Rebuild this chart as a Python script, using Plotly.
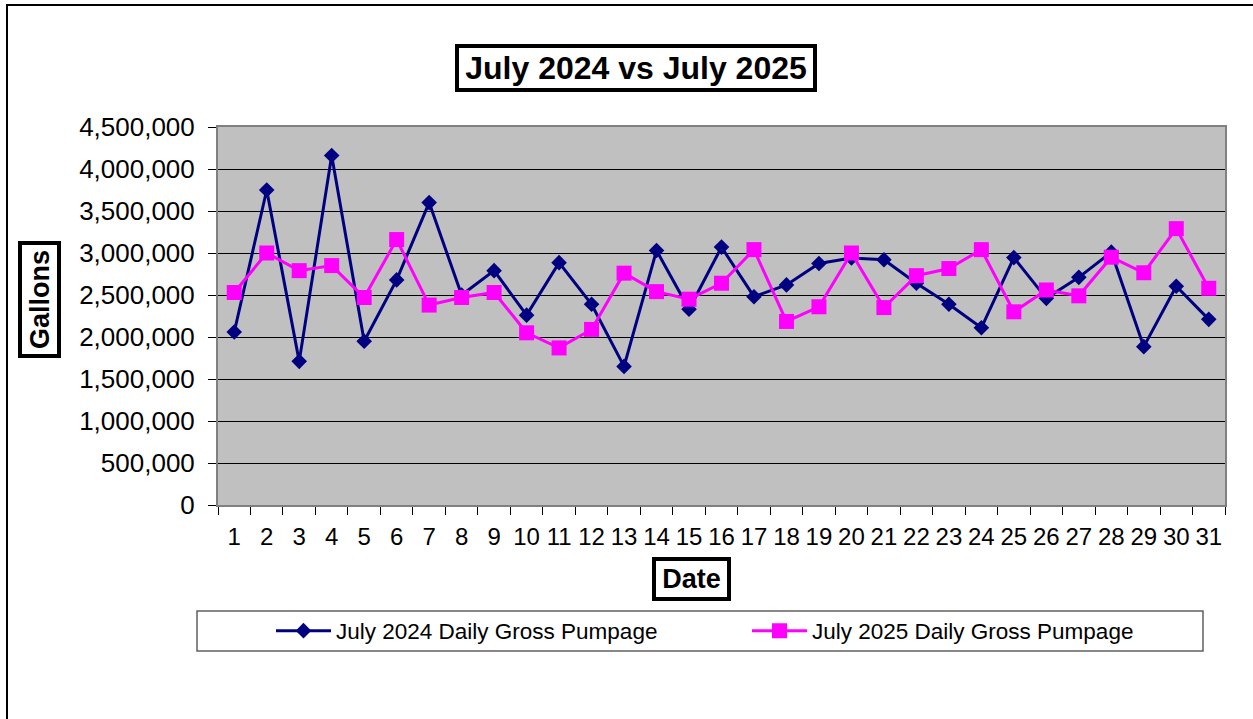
import plotly.graph_objects as go

days = list(range(1, 32))
day_labels = [str(d) for d in days]
pump_2024 = [2060000, 3750000, 1710000, 4160000, 1950000, 2680000, 3600000, 2500000,
             2790000, 2260000, 2885000, 2390000, 1650000, 3030000, 2330000, 3070000,
             2480000, 2620000, 2875000, 2940000, 2920000, 2640000, 2390000, 2110000,
             2945000, 2460000, 2710000, 3010000, 1885000, 2605000, 2210000]
pump_2025 = [2530000, 3000000, 2790000, 2850000, 2470000, 3160000, 2380000, 2470000,
             2530000, 2050000, 1870000, 2090000, 2760000, 2540000, 2450000, 2640000,
             3040000, 2185000, 2360000, 3000000, 2350000, 2730000, 2815000, 3040000,
             2300000, 2560000, 2490000, 2950000, 2765000, 3290000, 2580000]
y_ticks = list(range(0, 4500001, 500000))

W, H = 1253, 719
# plot area in page coordinates
PL, PR, PT, PB = 218, 1225, 127, 505
PW, PH = PR - PL, PB - PT

def px(x):
    return (x - PL) / PW

def py(y):
    return (PB - y) / PH

FONT = "Liberation Sans, Arial, sans-serif"

fig = go.Figure()
fig.add_trace(go.Scatter(
    x=days, y=pump_2024, mode="lines+markers", name="July 2024 Daily Gross Pumpage",
    line=dict(color="#000080", width=3),
    marker=dict(symbol="diamond", size=12, color="#000080"),
))
fig.add_trace(go.Scatter(
    x=days, y=pump_2025, mode="lines+markers", name="July 2025 Daily Gross Pumpage",
    line=dict(color="#FF00FF", width=3),
    marker=dict(symbol="square", size=15, color="#FF00FF"),
))

fig.update_layout(
    width=W, height=H,
    margin=dict(l=PL, r=W - PR, t=PT, b=H - PB, autoexpand=False),
    paper_bgcolor="white",
    plot_bgcolor="#C0C0C0",
    font=dict(family=FONT, color="black"),
    showlegend=True,
    legend=dict(
        orientation="h", x=px(271), xanchor="left", y=py(631), yanchor="middle",
        font=dict(size=22.5, family=FONT, color="black"),
        bgcolor="rgba(0,0,0,0)", borderwidth=0,
        entrywidth=406, entrywidthmode="pixels", itemwidth=55,
    ),
    xaxis=dict(
        range=[0.5, 31.5], tickmode="array", tickvals=days, ticktext=day_labels,
        ticks="", showgrid=False, zeroline=False,
        tickfont=dict(size=24, family=FONT, color="black"),
        ticklabelstandoff=9,
        showline=True, linecolor="#808080", linewidth=2, mirror=True,
        minor=dict(tickmode="array", tickvals=[d + 0.5 for d in range(0, 32)],
                   ticks="outside", ticklen=8, tickcolor="black", tickwidth=1,
                   showgrid=False),
    ),
    yaxis=dict(
        range=[0, 4500000], tickmode="array", tickvals=y_ticks,
        ticktext=[f"{v:,}" for v in y_ticks],
        ticks="outside", ticklen=8, tickcolor="black", tickwidth=1,
        showgrid=True, gridcolor="black", gridwidth=1, zeroline=False,
        tickfont=dict(size=26, family=FONT, color="black"),
        ticklabelstandoff=8,
        showline=True, linecolor="#808080", linewidth=2, mirror=True,
    ),
    annotations=[
        dict(text="<b>July 2024 vs July 2025</b>", xref="paper", yref="paper",
             x=px(636), y=py(68), xanchor="center", yanchor="middle", showarrow=False,
             font=dict(size=32, family=FONT, color="black"),
             width=354, height=40,
             bordercolor="black", borderwidth=4, borderpad=0, bgcolor="white"),
        dict(text="<b>Gallons</b>", xref="paper", yref="paper", textangle=-90,
             x=px(39.5), y=py(299.5), xanchor="center", yanchor="middle", showarrow=False,
             font=dict(size=27, family=FONT, color="black"),
             width=109, height=35,
             bordercolor="black", borderwidth=4, borderpad=0, bgcolor="white"),
        dict(text="<b>Date</b>", xref="paper", yref="paper",
             x=px(691.5), y=py(579), xanchor="center", yanchor="middle", showarrow=False,
             font=dict(size=27, family=FONT, color="black"),
             width=71, height=36,
             bordercolor="black", borderwidth=4, borderpad=0, bgcolor="white"),
    ],
    shapes=[
        dict(type="rect", xref="paper", yref="paper",
             x0=px(197), x1=px(1203), y0=py(651), y1=py(611),
             line=dict(color="#606060", width=1.5), fillcolor="rgba(0,0,0,0)", layer="below"),
        dict(type="rect", xref="paper", yref="paper",
             x0=px(7), x1=px(1265), y0=py(740), y1=py(5),
             line=dict(color="black", width=2), fillcolor="rgba(0,0,0,0)", layer="below"),
    ],
)

fig.write_html(
    "out.html",
    config={"displayModeBar": False},
    post_script="document.body.style.margin='0';document.body.style.overflow='hidden';",
)
